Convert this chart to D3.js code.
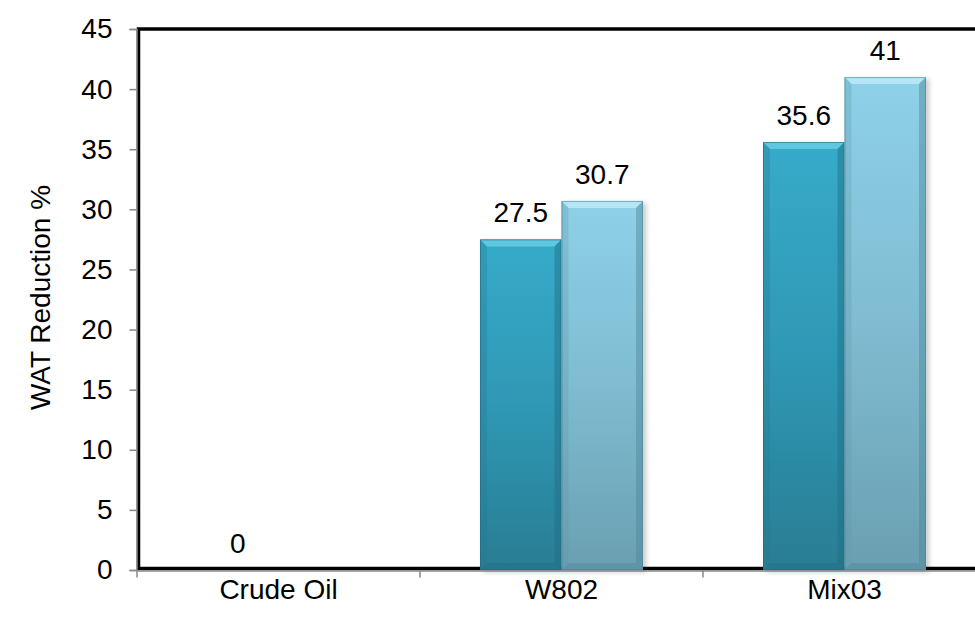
<!DOCTYPE html>
<html>
<head>
<meta charset="utf-8">
<script src="https://cdn.jsdelivr.net/npm/d3@7"></script>
<style>
  html, body { margin: 0; padding: 0; background: #fff; overflow: hidden; }
  svg { display: block; font-family: "Liberation Sans", Arial, sans-serif; }
</style>
</head>
<body>
<svg id="chart" width="975" height="617"></svg>
<script>
// WAT reduction per sample, two test series
const categories = ["Crude Oil", "W802", "Mix03"];
const seriesA = [0, 27.5, 35.6];
const seriesB = [null, 30.7, 41];
const yTicks = [0, 5, 10, 15, 20, 25, 30, 35, 40, 45];
const yTitle = "WAT Reduction %";

const plot = { left: 137, top: 29, right: 986, bottom: 570 };
const fontSize = 28;

const svg = d3.select("#chart");
const defs = svg.append("defs");

const y = d3.scaleLinear().domain([0, 45]).range([plot.bottom, plot.top]);
const x = d3.scaleBand().domain(categories).range([plot.left, plot.right]).paddingInner(0).paddingOuter(0);
const groupW = x.bandwidth() * 0.576;
const xs = d3.scaleBand().domain(["A", "B"]).range([0, groupW]).padding(0);

// bar fills
const palettes = {
  A: { top: "#36abc9", mid: "#2f98b5", bot: "#297d93", hi: "#66cde4", side: "#247790", edge: "#1f6d82" },
  B: { top: "#8ed1e8", mid: "#7fbcd1", bot: "#6a9fb1", hi: "#bdeaf7", side: "#5f97aa", edge: "#4d8496" }
};
Object.entries(palettes).forEach(([k, p]) => {
  const g = defs.append("linearGradient").attr("id", "grad" + k)
    .attr("x1", 0).attr("y1", 0).attr("x2", 0).attr("y2", 1);
  g.append("stop").attr("offset", "0%").attr("stop-color", p.top);
  g.append("stop").attr("offset", "50%").attr("stop-color", p.mid);
  g.append("stop").attr("offset", "100%").attr("stop-color", p.bot);
});
const shadow = defs.append("filter").attr("id", "shadow")
  .attr("x", "-20%").attr("y", "-10%").attr("width", "150%").attr("height", "130%");
shadow.append("feDropShadow").attr("dx", 3).attr("dy", 2).attr("stdDeviation", 2.5)
  .attr("flood-color", "#000").attr("flood-opacity", 0.22);

// plot frame
svg.append("rect")
  .attr("x", plot.left + 1.5).attr("y", plot.top)
  .attr("width", plot.right - plot.left).attr("height", plot.bottom - plot.top - 1.5)
  .attr("fill", "none").attr("stroke", "#000").attr("stroke-width", 3.5);

// bars
const barData = [];
categories.forEach((c, i) => {
  if (seriesA[i] != null) barData.push({ cat: c, key: "A", value: seriesA[i] });
  if (seriesB[i] != null) barData.push({ cat: c, key: "B", value: seriesB[i] });
});
const off = (x.bandwidth() - groupW) / 2;
const bars = svg.append("g").selectAll("g").data(barData).join("g")
  .attr("transform", d => `translate(${x(d.cat) + off + xs(d.key)},0)`);

const bw = xs.bandwidth();
bars.filter(d => d.value > 0).each(function (d) {
  const g = d3.select(this);
  const p = palettes[d.key];
  const y0 = y(d.value), y1 = y(0), h = y1 - y0;
  const b = Math.min(7, h / 2);
  g.append("rect").attr("x", 0).attr("y", y0).attr("width", bw).attr("height", h)
    .attr("fill", `url(#grad${d.key})`).attr("filter", "url(#shadow)");
  // bevelled edges
  g.append("path").attr("d", `M0,${y0}H${bw}L${bw - b},${y0 + b}H${b}Z`).attr("fill", p.hi).attr("opacity", 0.85);
  g.append("path").attr("d", `M0,${y0}L${b},${y0 + b}V${y1 - b}L0,${y1}Z`).attr("fill", p.side).attr("opacity", 0.3);
  g.append("path").attr("d", `M${bw},${y0}L${bw - b},${y0 + b}V${y1 - b}L${bw},${y1}Z`).attr("fill", p.edge).attr("opacity", 0.45);
  g.append("path").attr("d", `M0,${y1}L${b},${y1 - b}H${bw - b}L${bw},${y1}Z`).attr("fill", p.edge).attr("opacity", 0.4);
  g.append("rect").attr("x", 0.5).attr("y", y0 + 0.5).attr("width", bw - 1).attr("height", h - 1)
    .attr("fill", "none").attr("stroke", p.edge).attr("stroke-opacity", 0.6).attr("stroke-width", 1);
});

// value labels
bars.append("text")
  .attr("x", bw / 2).attr("y", d => y(d.value) - 17)
  .attr("text-anchor", "middle").attr("font-size", fontSize).attr("fill", "#000")
  .text(d => d.value);

// y axis
const yAxis = svg.append("g").attr("transform", `translate(${plot.left - 0.5},0)`)
  .call(d3.axisLeft(y).tickValues(yTicks).tickSize(7).tickPadding(17).tickFormat(d3.format("d")));
yAxis.select(".domain").attr("stroke", "#888").attr("stroke-width", 1.5);
yAxis.selectAll(".tick line").attr("stroke", "#888").attr("stroke-width", 1.5);
yAxis.selectAll(".tick text").attr("font-size", fontSize).attr("fill", "#000")
  .attr("font-family", "Liberation Sans, Arial, sans-serif");

// x axis
const xAxis = svg.append("g").attr("transform", `translate(0,${plot.bottom + 0.5})`)
  .call(d3.axisBottom(x).tickSize(0).tickPadding(9));
xAxis.select(".domain").attr("stroke", "#888").attr("stroke-width", 1.5);
xAxis.selectAll(".tick text").attr("font-size", fontSize).attr("fill", "#000")
  .attr("font-family", "Liberation Sans, Arial, sans-serif");
const bounds = categories.map(c => x(c)).concat([plot.right]);
xAxis.selectAll(".sep").data(bounds).join("line").attr("class", "sep")
  .attr("x1", d => d).attr("x2", d => d).attr("y1", 0).attr("y2", 7)
  .attr("stroke", "#888").attr("stroke-width", 1.5);

// y axis title
svg.append("text")
  .attr("transform", `translate(40,${(plot.top + plot.bottom) / 2 - 2}) rotate(-90)`)
  .attr("text-anchor", "middle").attr("dy", "0.35em")
  .attr("font-size", fontSize).attr("fill", "#000")
  .text(yTitle);
</script>
</body>
</html>
